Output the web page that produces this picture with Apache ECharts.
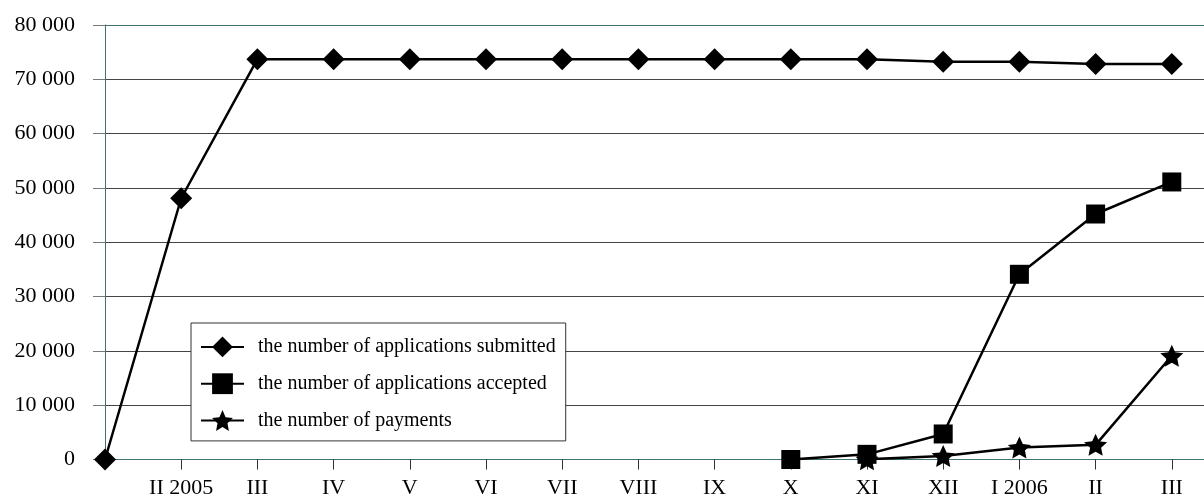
<!DOCTYPE html>
<html>
<head>
<meta charset="utf-8">
<script src="https://cdn.jsdelivr.net/npm/echarts@6/dist/echarts.min.js"></script>
<style>
html,body{margin:0;padding:0;background:#fff;}
#chart{width:1204px;height:499px;}
</style>
</head>
<body>
<div id="chart"></div>
<script>
// Categories (last one empty: the plot area continues past the last month)
var categories = ['', 'II 2005', 'III', 'IV', 'V', 'VI', 'VII', 'VIII', 'IX', 'X', 'XI', 'XII', 'I 2006', 'II', 'III', ''];
var submitted = [0, 48100, 73700, 73700, 73700, 73700, 73700, 73700, 73700, 73700, 73700, 73250, 73250, 72800, 72800];
var accepted = [null, null, null, null, null, null, null, null, null, 0, 950, 4700, 34100, 45200, 51100];
var payments = [null, null, null, null, null, null, null, null, null, null, 50, 650, 2200, 2700, 19100];
var seriesNames = ['the number of applications submitted', 'the number of applications accepted', 'the number of payments'];
var yMin = 0, yMax = 80000, yStep = 10000;

var STAR = 'path://M50 0 L64.11 30.58 L97.55 34.55 L72.83 57.42 L79.39 90.45 L50 74 L20.61 90.45 L27.17 57.42 L2.45 34.55 L35.89 30.58 Z';
var FONT = '"Liberation Serif", "Times New Roman", serif';
var TEAL = '#3f7272';
var GRID = '#444444';

var chart = echarts.init(document.getElementById('chart'), null, {renderer: 'canvas'});

function fmt(v) { return String(v).replace(/\B(?=(\d{3})+(?!\d))/g, ' '); }

var splitColors = [];
for (var i = 0; i < (yMax - yMin) / yStep; i++) splitColors.push(GRID);
splitColors.push(TEAL);

function lineSeries(name, data, symbol, size) {
  return {
    name: name, type: 'line', data: data,
    symbol: symbol, symbolSize: size,
    showAllSymbol: true,
    connectNulls: false,
    lineStyle: {color: '#000', width: 2.5},
    itemStyle: {color: '#000'},
    animation: false,
    z: 3
  };
}

chart.setOption({
  animation: false,
  backgroundColor: '#fff',
  textStyle: {fontFamily: FONT},
  grid: {left: 105, top: 25, width: 1143, height: 434.5, containLabel: false, outerBoundsMode: 'none'},
  legend: {
    orient: 'vertical',
    left: 191, top: 323, width: 375,
    padding: [13.5, 10, 10, 9],
    itemWidth: 43, itemHeight: 26, itemGap: 16,
    backgroundColor: '#fff',
    borderColor: '#333', borderWidth: 1,
    textStyle: {fontFamily: FONT, fontSize: 20, color: '#000', padding: [0, 0, 0, 9]},
    data: seriesNames
  },
  xAxis: {
    type: 'category',
    data: categories,
    boundaryGap: false,
    axisLine: {lineStyle: {color: TEAL, width: 1}},
    axisTick: {show: true, length: 10, lineStyle: {color: '#333'}},
    axisLabel: {fontFamily: FONT, fontSize: 22, color: '#000', margin: 18, interval: 0},
    splitLine: {show: false}
  },
  yAxis: {
    type: 'value',
    min: yMin, max: yMax, interval: yStep,
    axisLine: {show: true, lineStyle: {color: TEAL, width: 1}},
    axisTick: {show: true, length: 12, lineStyle: {color: '#777'}},
    axisLabel: {fontFamily: FONT, fontSize: 22, color: '#000', margin: 30, formatter: fmt},
    splitLine: {show: true, lineStyle: {color: splitColors, width: 1}}
  },
  series: [
    lineSeries(seriesNames[0], submitted, 'diamond', [22, 22]),
    lineSeries(seriesNames[1], accepted, 'rect', 19),
    lineSeries(seriesNames[2], payments, STAR, [23, 22])
  ]
});
</script>
</body>
</html>
